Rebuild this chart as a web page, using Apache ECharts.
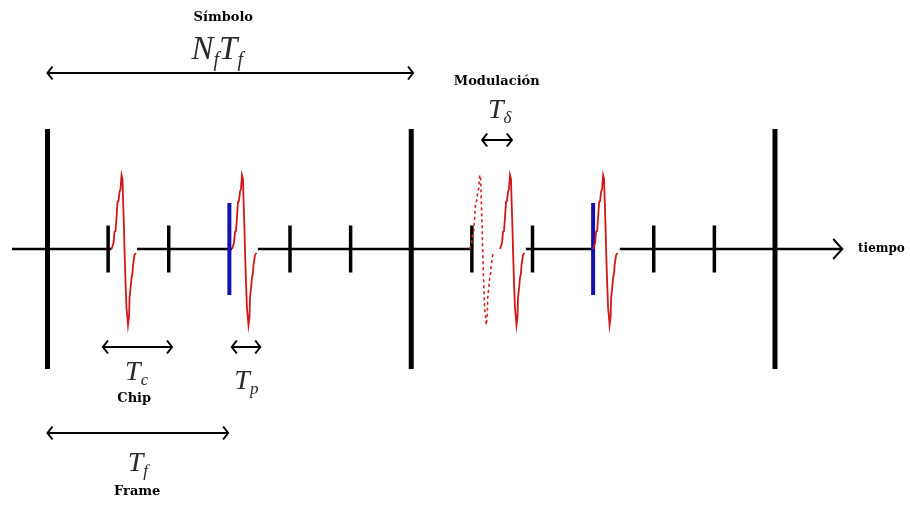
<!DOCTYPE html>
<html>
<head>
<meta charset="utf-8">
<script src="https://cdn.jsdelivr.net/npm/echarts@6/dist/echarts.min.js"></script>
<style>
  html, body { margin: 0; padding: 0; background: #ffffff; }
  #chart { width: 910px; height: 507px; }
</style>
</head>
<body>
<div id="chart"></div>
<script>
// Time is measured in chip durations (Tc = 1); amplitude in arbitrary units.
const symbolBounds = [0, 6, 12];                 // symbol boundaries (Nf = 2 frames of 3 chips)
const chipTicks = [1, 2, 4, 5, 7, 8, 10, 11];    // chip boundaries inside the symbols
const frameMarks = [3, 9];                       // frame starts, marked in blue
const pulseStarts = [1.056, 3.043, 7.464, 9.0];  // transmitted pulses
const unshiftedStarts = [6.964];                 // pulse position before PPM shift (dashed)

// Monocycle shape: time offset from pulse start and amplitude
const pulseTime = [0, 0.033, 0.049, 0.066, 0.082, 0.099, 0.115, 0.132, 0.148, 0.165, 0.181,
                   0.190, 0.206, 0.214, 0.231, 0.247, 0.264, 0.272, 0.289, 0.297, 0.313,
                   0.330, 0.346, 0.355, 0.379, 0.404];
const pulseAmp  = [0, 0.06, 0.17, 0.18, 0.31, 0.47, 0.48, 0.57, 0.60, 0.74, 0.70,
                   0.51, 0.20, 0, -0.33, -0.59, -0.70, -0.76, -0.68, -0.49, -0.40,
                   -0.29, -0.24, -0.16, -0.06, -0.04];

// Time axis pieces between pulses
const baselineFrom = [-0.586, 1.476, 3.47, 7.89, 9.44];
const baselineTo   = [1.056, 3.043, 7.0, 9.0, 13.11];

// Duration markers (double arrows)
const spanFrom  = [0, 7.17, 0.915, 3.04, 0];
const spanTo    = [6.03, 7.66, 2.054, 3.51, 2.98];
const spanLevel = [1.76, 1.09, -0.98, -0.98, -1.84];

// Plain text labels
const wordText = ['Símbolo', 'Modulación', 'Chip', 'Frame'];
const wordX    = [2.90, 7.41, 1.43, 1.48];
const wordY    = [2.31, 1.67, -1.50, -2.43];

// Math labels (rich text: m = symbol, s = subscript)
const mathText = ['{M|N}{S|f}{M|T}{S|f}', '{m|T}{s|δ}', '{m|T}{s|c}', '{m|T}{s|p}', '{m|T}{s|f}'];
const mathX    = [2.80, 7.46, 1.47, 3.28, 1.49];
const mathY    = [1.97, 1.37, -1.25, -1.34, -2.16];

const axisLabelText = 'tiempo';
const axisLabelX = 13.37;

const BAR_H = 1.2, TICK_H = 0.235, MARK_H = 0.46;

function seg(x0, y0, x1, y1, style) {
  return { coords: [[x0, y0], [x1, y1]], lineStyle: style };
}

const structure = [];
symbolBounds.forEach(x => structure.push(seg(x, -BAR_H, x, BAR_H, { color: '#000', width: 5, opacity: 1 })));
chipTicks.forEach(x => structure.push(seg(x, -TICK_H, x, TICK_H, { color: '#000', width: 3.5, opacity: 1 })));
frameMarks.forEach(x => structure.push(seg(x, -MARK_H, x, MARK_H, { color: '#1212b0', width: 4, opacity: 1 })));

const axisLines = [];
baselineFrom.forEach((x, i) => axisLines.push(seg(x, 0, baselineTo[i], 0, { color: '#000', width: 2.5, opacity: 1 })));
const tip = baselineTo[baselineTo.length - 1];
axisLines.push({ coords: [[tip - 0.15, 0.10], [tip, 0], [tip - 0.15, -0.10]],
                 lineStyle: { color: '#000', width: 2, opacity: 1 } });

const arrows = [];
spanFrom.forEach((a, i) => {
  const b = spanTo[i], y = spanLevel[i];
  const st = { color: '#000', width: 2, opacity: 1 };
  arrows.push(seg(a, y, b, y, st));
  arrows.push({ coords: [[a + 0.083, y + 0.065], [a, y], [a + 0.083, y - 0.065]], lineStyle: st });
  arrows.push({ coords: [[b - 0.083, y + 0.065], [b, y], [b - 0.083, y - 0.065]], lineStyle: st });
});

function pulseCoords(t0) {
  return pulseTime.map((t, i) => [t0 + t, pulseAmp[i]]);
}
const pulses = pulseStarts.map(t0 => ({
  coords: pulseCoords(t0),
  lineStyle: { color: '#d01818', width: 1.8, opacity: 1 }
}));
const ghosts = unshiftedStarts.map(t0 => ({
  coords: pulseCoords(t0),
  lineStyle: { color: '#d02424', width: 1.6, opacity: 1, type: [3, 3] }
}));

const boldFont = { fontFamily: 'DejaVu Serif', fontWeight: 'bold', fontSize: 13, color: '#000' };
const mathFont = 'Liberation Serif';
const mathColor = '#2a2a2a';
const mathRich = {
  M: { fontFamily: mathFont, fontStyle: 'italic', fontSize: 33, color: mathColor, verticalAlign: 'bottom', padding: [0, 0, 4, 0] },
  S: { fontFamily: mathFont, fontStyle: 'italic', fontSize: 20, color: mathColor, verticalAlign: 'bottom' },
  m: { fontFamily: mathFont, fontStyle: 'italic', fontSize: 28, color: mathColor, verticalAlign: 'bottom', padding: [0, 0, 3, 0] },
  s: { fontFamily: mathFont, fontStyle: 'italic', fontSize: 17, color: mathColor, verticalAlign: 'bottom' }
};

const textItems = [];
wordText.forEach((t, i) => textItems.push({
  value: [wordX[i], wordY[i]],
  label: Object.assign({ show: true, position: 'inside', formatter: t, align: 'center', verticalAlign: 'middle' }, boldFont)
}));
mathText.forEach((t, i) => textItems.push({
  value: [mathX[i], mathY[i]],
  label: { show: true, position: 'inside', formatter: t, align: 'center', verticalAlign: 'middle', rich: mathRich }
}));
textItems.push({
  value: [axisLabelX, 0],
  label: Object.assign({ show: true, position: 'inside', formatter: axisLabelText, align: 'left', verticalAlign: 'middle' },
                       boldFont, { fontSize: 12 })
});

const chart = echarts.init(document.getElementById('chart'), null, { renderer: 'canvas' });
chart.setOption({
  animation: false,
  backgroundColor: '#ffffff',
  grid: { left: 0, right: 0, top: 0, bottom: 0 },
  xAxis: { type: 'value', min: -0.7835, max: 14.227, show: false },
  yAxis: { type: 'value', min: -2.58, max: 2.49, show: false },
  series: [
    { type: 'lines', coordinateSystem: 'cartesian2d', polyline: true, silent: true, data: axisLines, z: 1 },
    { type: 'lines', coordinateSystem: 'cartesian2d', polyline: true, silent: true, data: structure, z: 2 },
    { type: 'lines', coordinateSystem: 'cartesian2d', polyline: true, silent: true, data: arrows, z: 2 },
    { type: 'lines', coordinateSystem: 'cartesian2d', polyline: true, silent: true, data: ghosts, z: 3 },
    { type: 'lines', coordinateSystem: 'cartesian2d', polyline: true, silent: true, data: pulses, z: 4 },
    { type: 'scatter', silent: true, symbolSize: 1, itemStyle: { color: 'rgba(0,0,0,0)', opacity: 1 }, data: textItems, z: 5 }
  ]
});
</script>
</body>
</html>
